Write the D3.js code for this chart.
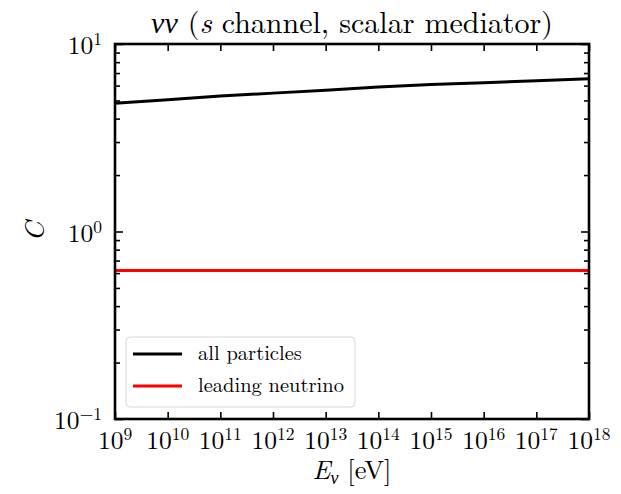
<!DOCTYPE html>
<html>
<head>
<meta charset="utf-8">
<script src="https://cdn.jsdelivr.net/npm/d3@7"></script>
<style>
  body { margin: 0; background: #fff; }
</style>
</head>
<body>
<div id="chart"></div>
<script>
// Data
const energyExp = [9, 10, 11, 12, 13, 14, 15, 16, 17, 18];      // log10(E / eV)
const allParticles = [4.83, 5.05, 5.28, 5.47, 5.66, 5.9, 6.08, 6.22, 6.37, 6.52];
const leadingNeutrino = [0.62, 0.62, 0.62, 0.62, 0.62, 0.62, 0.62, 0.62, 0.62, 0.62];
const xTickExp = [9, 10, 11, 12, 13, 14, 15, 16, 17, 18];
const yTickExp = [-1, 0, 1];
const seriesNames = ["all particles", "leading neutrino"];
const seriesColors = ["#000000", "#ff0000"];

const serif = "'Latin Modern Roman', 'Liberation Serif', serif";
const greek = "'Liberation Serif', serif"; // LM Roman has no greek

const margin = { top: 44, right: 32, bottom: 75, left: 115 };
const W = 621, H = 494;
const width = W - margin.left - margin.right;
const height = H - margin.top - margin.bottom;

const svg = d3.select("#chart").append("svg")
  .attr("width", W).attr("height", H)
  .attr("font-family", serif);

const g = svg.append("g")
  .attr("transform", `translate(${margin.left},${margin.top})`);

const x = d3.scaleLog().domain([1e9, 1e18]).range([0, width]);
const y = d3.scaleLog().domain([0.1, 10]).range([height, 0]);

// minor ticks on y (2..9 per decade)
const yMinor = [];
for (let e = -1; e < 1; e++) for (let m = 2; m <= 9; m++) yMinor.push(m * Math.pow(10, e));
const xMajor = xTickExp.map(e => Math.pow(10, e));
const yMajor = yTickExp.map(e => Math.pow(10, e));

// series lines
const line = d3.line().x(d => x(d[0])).y(d => y(d[1]));
[allParticles, leadingNeutrino].forEach((vals, i) => {
  const pts = energyExp.map((e, j) => [Math.pow(10, e), vals[j]]);
  g.append("path")
    .datum(pts)
    .attr("fill", "none")
    .attr("stroke", seriesColors[i])
    .attr("stroke-width", 3)
    .attr("d", line);
});

// inward ticks on all four sides
function ticks(axisFn, scale, values, size, transform) {
  g.append("g")
    .attr("transform", transform || null)
    .call(axisFn(scale).tickValues(values).tickSize(-size).tickFormat(""))
    .call(s => s.select(".domain").remove())
    .call(s => s.selectAll("line").attr("stroke", "#000").attr("stroke-width", 1.6));
}
ticks(d3.axisBottom, x, xMajor, 7, `translate(0,${height})`);
ticks(d3.axisTop, x, xMajor, 7);
ticks(d3.axisLeft, y, yMajor, 8);
ticks(d3.axisRight, y, yMajor, 8, `translate(${width},0)`);
ticks(d3.axisLeft, y, yMinor, 5);
ticks(d3.axisRight, y, yMinor, 5, `translate(${width},0)`);

// frame
g.append("rect")
  .attr("width", width).attr("height", height)
  .attr("fill", "none").attr("stroke", "#000").attr("stroke-width", 2.6);

// x tick labels
xTickExp.forEach(e => {
  const t = g.append("text")
    .attr("x", x(Math.pow(10, e)))
    .attr("y", height + 30)
    .attr("text-anchor", "middle")
    .attr("font-size", 25.5);
  t.append("tspan").text("10");
  t.append("tspan").attr("dy", -9).attr("font-size", 17.5).text(e);
});

// y tick labels
yTickExp.forEach(e => {
  const t = g.append("text")
    .attr("x", -13)
    .attr("y", y(Math.pow(10, e)) + 10)
    .attr("text-anchor", "end")
    .attr("font-size", 25.5);
  t.append("tspan").text("10");
  t.append("tspan").attr("dy", -9).attr("font-size", 17.5).text(e === -1 ? "\u22121" : e);
});

// axis labels
const xlab = svg.append("text")
  .attr("x", margin.left + width / 2)
  .attr("y", 479)
  .attr("text-anchor", "middle")
  .attr("font-size", 26.5);
xlab.append("tspan").attr("font-style", "italic").text("E");
xlab.append("tspan").attr("dy", 5).attr("font-size", 18).attr("font-style", "italic")
  .attr("font-family", greek).text("\u03bd");
xlab.append("tspan").attr("dy", -5).text(" [eV]");

svg.append("text")
  .attr("transform", `translate(44,${margin.top + height / 2}) rotate(-90)`)
  .attr("text-anchor", "middle")
  .attr("font-size", 28)
  .attr("font-style", "italic")
  .text("C");

// title
const title = svg.append("text")
  .attr("x", margin.left + width / 2)
  .attr("y", 33)
  .attr("text-anchor", "middle")
  .attr("font-size", 30);
title.append("tspan").attr("font-style", "italic").attr("font-family", greek).text("\u03bd\u03bd");
title.append("tspan").text(" (");
title.append("tspan").attr("font-style", "italic").text("s");
title.append("tspan").text(" channel, scalar mediator)");

// legend
const lg = g.append("g").attr("transform", `translate(11,${height - 82})`);
lg.append("rect")
  .attr("width", 229).attr("height", 70)
  .attr("rx", 4)
  .attr("fill", "#fff").attr("fill-opacity", 0.8)
  .attr("stroke", "#d6d6d6").attr("stroke-width", 1);
seriesNames.forEach((name, i) => {
  const yy = 17 + i * 32;
  lg.append("line")
    .attr("x1", 7).attr("x2", 56)
    .attr("y1", yy).attr("y2", yy)
    .attr("stroke", seriesColors[i]).attr("stroke-width", 3);
  lg.append("text")
    .attr("x", 72).attr("y", yy + 6)
    .attr("font-size", 20.5)
    .text(name);
});
</script>
</body>
</html>
